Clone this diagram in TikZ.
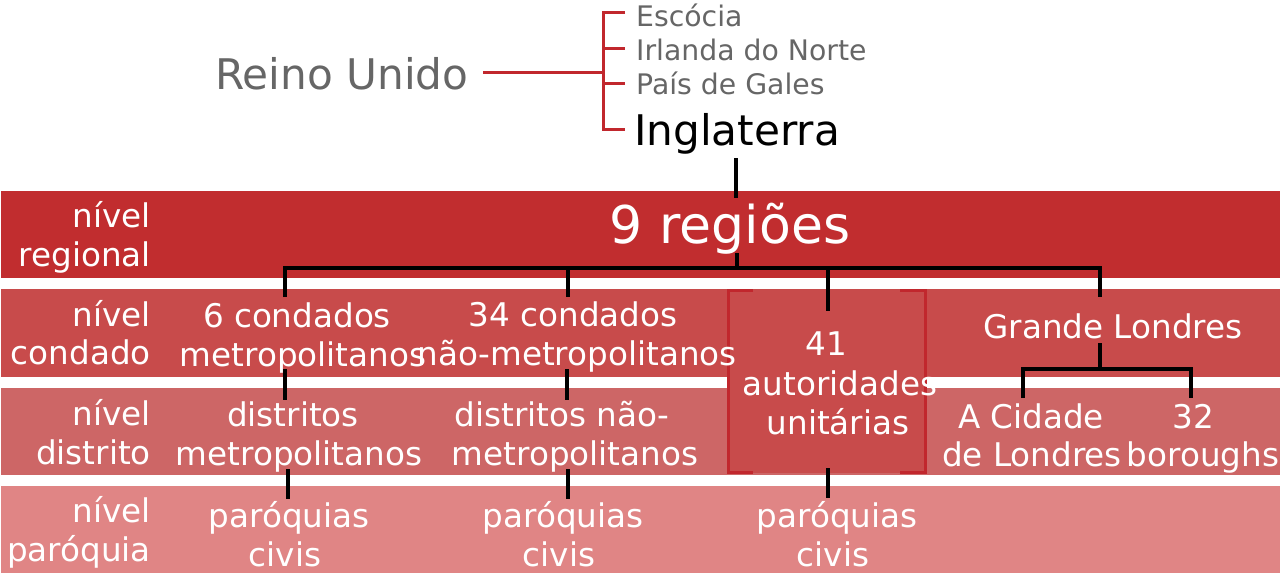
\documentclass[tikz,border=0pt]{standalone}
\usepackage{fontspec}
\setmainfont{DejaVu Sans}
\definecolor{cReg}{HTML}{C12D2F}
\definecolor{cCon}{HTML}{C84B4B}
\definecolor{cDis}{HTML}{CD6666}
\definecolor{cPar}{HTML}{E08585}
\definecolor{cBr}{HTML}{C1272D}
\definecolor{cGray}{HTML}{666666}
\begin{document}
\begin{tikzpicture}[x=1pt,y=-1pt,
  txt/.style={inner sep=0pt, anchor=base, text=white, font=\fontsize{32.6}{39}\selectfont},
  lvl/.style={txt, anchor=base east},
  top/.style={inner sep=0pt, anchor=base west, text=cGray, font=\fontsize{28.3}{34}\selectfont},
  big/.style={inner sep=0pt, anchor=base, font=\fontsize{42.2}{50}\selectfont},
  blk/.style={draw=black, line width=4.3pt},
  brk/.style={draw=cBr, line width=3pt}]
\useasboundingbox (0,0) rectangle (1280,578);
% bands
\fill[cReg] (1,191) rectangle (1280,278);
\fill[cCon] (1,289) rectangle (1280,377);
\fill[cDis] (1,388) rectangle (1280,475);
\fill[cPar] (1,486) rectangle (1280,573);
% unitary authorities box
\fill[cCon] (727,290) rectangle (926,473);
\draw[brk] (753,290) -- (728,290) -- (728,472) -- (753,472);
\draw[brk] (900,290) -- (925,290) -- (925,472) -- (900,472);

% top part
\node[big, text=cGray] (uk) at (342,89) {Reino Unido};
\node[top] (sco) at (636,27) {Escócia};
\node[top] (ni) at (636,61) {Irlanda do Norte};
\node[top] (wal) at (636,94) {País de Gales};
\node[big, anchor=base west, text=black] (eng) at (634,145) {Inglaterra};

\coordinate (ukR) at (483,73);
\coordinate (brJ) at (603,73);
\coordinate (brT) at (603,13);
\coordinate (brB) at (603,129);
\draw[brk] (ukR) -- (brJ);
\draw[brk] (brT -| sco.west) ++(-11,0) -- (brT) -- (brB) -- ++(22,0);
\draw[brk] (603,49) -- (625,49);
\draw[brk] (603,84) -- (625,84);

% level labels
\node[lvl] (lr1) at (151,227) {nível};
\node[lvl] (lr2) at (151,266) {regional};
\node[lvl] (lc1) at (151,326) {nível};
\node[lvl] (lc2) at (151,364) {condado};
\node[lvl] (ld1) at (151,425) {nível};
\node[lvl] (ld2) at (151,464) {distrito};
\node[lvl] (lp1) at (151,522) {nível};
\node[lvl] (lp2) at (151,561) {paróquia};

% regions
\node[txt, font=\fontsize{52}{62}\selectfont] (reg) at (730,243) {9 regiões};

% county level
\node[txt] (c6a) at (297,327) {6 condados};
\node[txt] (c6b) at (303,366) {metropolitanos};
\node[txt] (c34a) at (573,326) {34 condados};
\node[txt] (c34b) at (577,365) {não-metropolitanos};
\node[txt] (ua1) at (826,355) {41};
\node[txt] (ua2) at (840,395) {autoridades};
\node[txt] (ua3) at (838,434) {unitárias};
\node[txt] (gl) at (1113,338) {Grande Londres};

% district level
\node[txt] (dma) at (293,426) {distritos};
\node[txt] (dmb) at (299,465) {metropolitanos};
\node[txt] (dna) at (562,426) {distritos não-};
\node[txt] (dnb) at (575,465) {metropolitanos};
\node[txt] (cl1) at (1031,428) {A Cidade};
\node[txt] (cl2) at (1032,466) {de Londres};
\node[txt] (b1) at (1193,428) {32};
\node[txt] (b2) at (1203,466) {boroughs};

% parish level
\node[txt] (p1a) at (289,527) {paróquias};
\node[txt] (p1b) at (285,566) {civis};
\node[txt] (p2a) at (563,527) {paróquias};
\node[txt] (p2b) at (559,566) {civis};
\node[txt] (p3a) at (837,527) {paróquias};
\node[txt] (p3b) at (833,566) {civis};

% black connectors
\coordinate (engB) at (736,158);
\coordinate (regT) at (736,198);
\draw[blk] (engB) -- (regT);
\coordinate (regB) at (737,253);
\coordinate (regJ) at (737,268);
\draw[blk] (regB) -- (regJ);
\coordinate (t6) at (285,297);
\coordinate (t34) at (568,297);
\coordinate (tua) at (828,311);
\coordinate (tgl) at (1100,297);
\draw[blk] (t6) -- (t6 |- regJ) -- (tgl |- regJ) -- (tgl);
\draw[blk] (t34 |- regJ) -- (t34);
\draw[blk] (tua |- regJ) -- (tua);

\coordinate (b6) at (285,369);
\coordinate (d6) at (285,400);
\draw[blk] (b6) -- (d6);
\coordinate (b34) at (567,369);
\coordinate (d34) at (567,400);
\draw[blk] (b34) -- (d34);

\coordinate (bdm) at (288,469);
\coordinate (pdm) at (288,499);
\draw[blk] (bdm) -- (pdm);
\coordinate (bdn) at (568,469);
\coordinate (pdn) at (568,499);
\draw[blk] (bdn) -- (pdn);
\coordinate (bua) at (828,468);
\coordinate (pua) at (828,498);
\draw[blk] (bua) -- (pua);

\coordinate (glB) at (1100,343);
\coordinate (glJ) at (1100,369);
\coordinate (tcl) at (1023,398);
\coordinate (tb) at (1191,398);
\draw[blk] (glB) -- (glJ);
\draw[blk] (tcl) -- (tcl |- glJ) -- (tb |- glJ) -- (tb);
\end{tikzpicture}
\end{document}
